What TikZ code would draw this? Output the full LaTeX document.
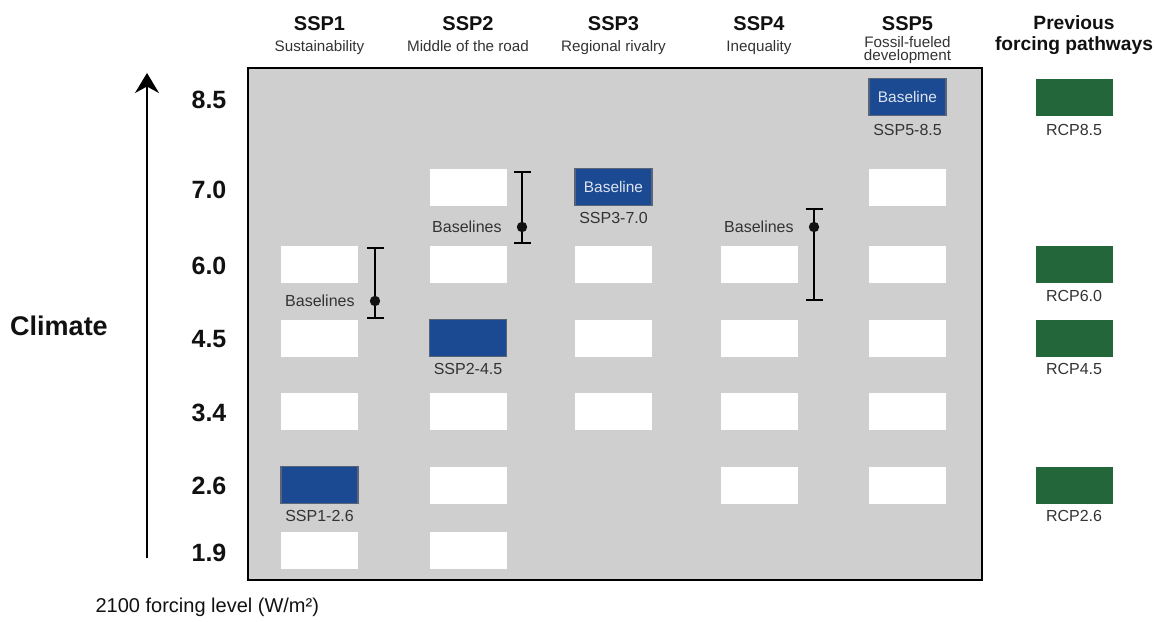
\documentclass[tikz,border=0pt]{standalone}
\usepackage{fontspec}
\setmainfont{Liberation Sans}
\usetikzlibrary{arrows.meta,positioning}

\definecolor{panel}{HTML}{CFCFCF}
\definecolor{sspblue}{HTML}{1B4A93}
\definecolor{rcpgreen}{HTML}{23663A}
\definecolor{boxedge}{HTML}{5A6478}
\definecolor{ink}{HTML}{111111}
\definecolor{softink}{HTML}{333333}

\begin{document}
\begin{tikzpicture}[x=0.5pt,y=-0.5pt,semithick,
	every node/.style={inner sep=0pt,text=ink},
	cell/.style={rectangle,minimum width=38.5pt,minimum height=18.5pt},
	blank/.style={cell,fill=white},
	bluecell/.style={cell,fill=sspblue,draw=boxedge,line width=0.6pt,text=white!85!sspblue,font=\fontsize{7.7}{9}\selectfont},
	rcp/.style={cell,fill=rcpgreen},
	tag/.style={font=\fontsize{8}{9}\selectfont,text=softink},
	hd/.style={font=\bfseries\fontsize{10}{10.5}\selectfont,anchor=base},
	subhd/.style={font=\fontsize{7.6}{6.4}\selectfont,text=softink},
	lvl/.style={font=\bfseries\fontsize{12.5}{14}\selectfont},
	dot/.style={circle,fill=ink,minimum size=5.2pt},
	errbar/.style={line width=1.2pt,{Bar[width=8.5pt]}-{Bar[width=8.5pt]}}]
	\useasboundingbox (0,0) rectangle (1156,621);

	\draw[fill=panel,line width=1pt] (248,68) rectangle (982,580);

	\node[hd] (H1) at (319.5,31) {SSP1};
	\node[hd] (H2) at (468,31) {SSP2};
	\node[hd] (H3) at (613.5,31) {SSP3};
	\node[hd] (H4) at (759,31) {SSP4};
	\node[hd] (H5) at (907.5,30) {SSP5};
	\node[hd,anchor=north,align=center,font=\bfseries\fontsize{9.6}{10.5}\selectfont] (H6) at (1074,15) {Previous\\forcing pathways};
	\node[subhd] (T1) [below=4pt of H1] {Sustainability};
	\node[subhd] (T2) [below=4pt of H2] {Middle of the road};
	\node[subhd] (T3) [below=4pt of H3] {Regional rivalry};
	\node[subhd] (T4) [below=4pt of H4] {Inequality};
	\node[subhd,align=center] (T5) [below=2.5pt of H5] {Fossil-fueled\\development};

	\node[lvl] (Y85) at (209,100) {8.5};
	\node[lvl] (Y70) at (209,190) {7.0};
	\node[lvl] (Y60) at (209,266) {6.0};
	\node[lvl] (Y45) at (209,339) {4.5};
	\node[lvl] (Y34) at (209,413) {3.4};
	\node[lvl] (Y26) at (209,486) {2.6};
	\node[lvl] (Y19) at (209,553) {1.9};
	\node[font=\bfseries\fontsize{13.5}{15}\selectfont] (clim) at (59,326) {Climate};
	\coordinate (ax0) at (147,558);
	\coordinate (ax1) at (147,73);
	\draw[line width=1pt,-{Stealth[length=10pt,width=12pt]}] (ax0) -- (ax1);
	\node[anchor=west,font=\fontsize{10}{12}\selectfont] (unit) at (95,607) {2100 forcing level (W/m²)};

	\node[blank] (A60) at (319.5,264.5) {};
	\node[blank] (A45) at (319.5,338) {};
	\node[blank] (A34) at (319.5,411.5) {};
	\node[bluecell] (A26) at (319.5,485) {};
	\node[blank] (A19) at (319.5,550) {};

	\node[blank] (B70) at (468,187) {};
	\node[blank] (B60) at (468,264.5) {};
	\node[bluecell] (B45) at (468,338) {};
	\node[blank] (B34) at (468,411.5) {};
	\node[blank] (B26) at (468,485) {};
	\node[blank] (B19) at (468,550) {};

	\node[bluecell] (C70) at (613.5,187) {Baseline};
	\node[blank] (C60) at (613.5,264.5) {};
	\node[blank] (C45) at (613.5,338) {};
	\node[blank] (C34) at (613.5,411.5) {};

	\node[blank] (D60) at (759,264.5) {};
	\node[blank] (D45) at (759,338) {};
	\node[blank] (D34) at (759,411.5) {};
	\node[blank] (D26) at (759,485) {};

	\node[bluecell] (E85) at (907.5,97) {Baseline};
	\node[blank] (E70) at (907.5,187) {};
	\node[blank] (E60) at (907.5,264.5) {};
	\node[blank] (E45) at (907.5,338) {};
	\node[blank] (E34) at (907.5,411.5) {};
	\node[blank] (E26) at (907.5,485) {};

	\node[rcp] (F85) at (1074,97) {};
	\node[rcp] (F60) at (1074,264.5) {};
	\node[rcp] (F45) at (1074,338) {};
	\node[rcp] (F26) at (1074,485) {};

	\node[tag] (LA26) [below=3pt of A26] {SSP1-2.6};
	\node[tag] (LB45) [below=3pt of B45] {SSP2-4.5};
	\node[tag] (LC70) [below=3pt of C70] {SSP3-7.0};
	\node[tag] (LE85) [below=4pt of E85] {SSP5-8.5};
	\node[tag] (LF85) [below=4pt of F85] {RCP8.5};
	\node[tag] (LF60) [below=3pt of F60] {RCP6.0};
	\node[tag] (LF45) [below=3pt of F45] {RCP4.5};
	\node[tag] (LF26) [below=3pt of F26] {RCP2.6};

	\coordinate (R1t) at (375,247);
	\coordinate (R1b) at (375,319);
	\coordinate (R2t) at (522,171);
	\coordinate (R2b) at (522,244);
	\coordinate (R4t) at (814,208);
	\coordinate (R4b) at (814,301);
	\draw[errbar] (R1b) -- (R1t);
	\draw[errbar] (R2b) -- (R2t);
	\draw[errbar] (R4b) -- (R4t);
	\node[dot] (D1) at (375,301) {};
	\node[dot] (D2) at (522,227) {};
	\node[dot] (D4) at (814,227) {};
	\node[tag] (S1) [left=7pt of D1] {Baselines};
	\node[tag] (S2) [left=7pt of D2] {Baselines};
	\node[tag] (S4) [left=7pt of D4] {Baselines};
\end{tikzpicture}
\end{document}
